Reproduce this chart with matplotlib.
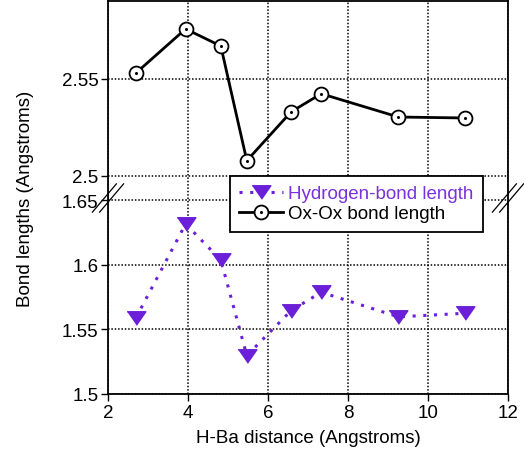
#!/usr/bin/env python3
"""Bond lengths vs H-Ba distance, broken y axis."""

import numpy as np
import matplotlib
matplotlib.use("Agg")
import matplotlib.pyplot as plt
from matplotlib.legend_handler import HandlerTuple

plt.rcParams["font.family"] = ["Liberation Sans", "DejaVu Sans"]

# data
hba_dist = [2.70, 3.94, 4.82, 5.47, 6.58, 7.33, 9.26, 10.93]
oxox_len = [2.5531, 2.5758, 2.5670, 2.5079, 2.5331, 2.5424, 2.5304, 2.5299]
hbond_len = [1.5591, 1.6318, 1.6039, 1.5298, 1.5647, 1.5789, 1.5598, 1.5626]

y_ticks = [1.5, 1.55, 1.6, 1.65, 2.5, 2.55]
y_tick_labels = ["1.5", "1.55", "1.6", "1.65", "2.5", "2.55"]
x_ticks = [2, 4, 6, 8, 10, 12]

PURPLE = "#6b1fd8"

# piecewise linear scale: 1.5-1.65 lower part, 2.5-2.59 upper part
LO_K = 64.5 / 0.05
HI_K = 97.0 / 0.05
GAP_K = 24.5 / 0.85
Y_LO_TOP = 0.15 * LO_K
Y_HI_BOT = Y_LO_TOP + 24.5


def forward(y):
    y = np.asarray(y, dtype=float)
    return np.where(y <= 1.65, (y - 1.5) * LO_K,
                    np.where(y >= 2.5, Y_HI_BOT + (y - 2.5) * HI_K,
                             Y_LO_TOP + (y - 1.65) * GAP_K))


def inverse(v):
    v = np.asarray(v, dtype=float)
    return np.where(v <= Y_LO_TOP, 1.5 + v / LO_K,
                    np.where(v >= Y_HI_BOT, 2.5 + (v - Y_HI_BOT) / HI_K,
                             1.65 + (v - Y_LO_TOP) / GAP_K))


fig = plt.figure(figsize=(5.24, 4.52), dpi=100)
ax = fig.add_axes([108 / 524, 1 - 395 / 452, 400 / 524, 393 / 452])
ax.set_yscale("function", functions=(forward, inverse))

hb_line, = ax.plot(hba_dist, hbond_len, color=PURPLE, linestyle=(0, (1, 2.5)),
                   linewidth=2.2, marker=[(-1, 0.72), (1, 0.72), (0, -0.72)],
                   markersize=13.5, markerfacecolor=PURPLE,
                   markeredgecolor=PURPLE, zorder=3)
ox_line, = ax.plot(hba_dist, oxox_len, color="black", linewidth=2,
                   marker="o", markersize=10, markerfacecolor="white",
                   markeredgecolor="black", markeredgewidth=1.3, zorder=3)
ox_dots, = ax.plot(hba_dist, oxox_len, linestyle="none", marker="o",
                   markersize=1.2, color="black", zorder=4)

ax.set_xlim(2, 12)
ax.set_ylim(1.5, 2.5902)
ax.set_xticks(x_ticks)
ax.set_yticks(y_ticks)
ax.set_yticklabels(y_tick_labels)
ax.minorticks_off()
ax.tick_params(labelsize=13.5, length=5, width=1, direction="out", pad=2)
ax.grid(True)
for gl in ax.get_xgridlines() + ax.get_ygridlines():
    gl.set_color("black")
    gl.set_linewidth(1.1)
    gl.set_linestyle((0, (1, 1.2)))
    gl.set_zorder(1)
    gl.set_visible(True)
for side in ax.spines.values():
    side.set_linewidth(1.3)

ax.set_xlabel("H-Ba distance (Angstroms)", fontsize=13.5, labelpad=6)
ax.set_ylabel("Bond lengths (Angstroms)", fontsize=13.5, labelpad=20)

# break marks on both spines
yb = 196 / 393
dx, dy, off = 0.03, 0.036, 0.009
for xb in (0.0, 1.0):
    for s in (-off, off):
        ax.plot([xb - dx + s, xb + dx + s], [yb - dy, yb + dy],
                transform=ax.transAxes, color="black", linewidth=0.9,
                clip_on=False, zorder=5)

leg = ax.legend([hb_line, (ox_line, ox_dots)],
                ["Hydrogen-bond length", "Ox-Ox bond length"],
                handler_map={tuple: HandlerTuple(ndivide=1, pad=0)},
                loc="upper left", bbox_to_anchor=(0.305, 0.555),
                fontsize=13.5, frameon=True, fancybox=False, framealpha=1,
                edgecolor="black", handlelength=2.3, handletextpad=0.3,
                borderpad=0.5, labelspacing=0.15, borderaxespad=0)
leg.get_frame().set_linewidth(1.3)
leg.get_texts()[0].set_color("#7a30dc")
leg.set_zorder(6)

fig.savefig("out.png", dpi=100)
